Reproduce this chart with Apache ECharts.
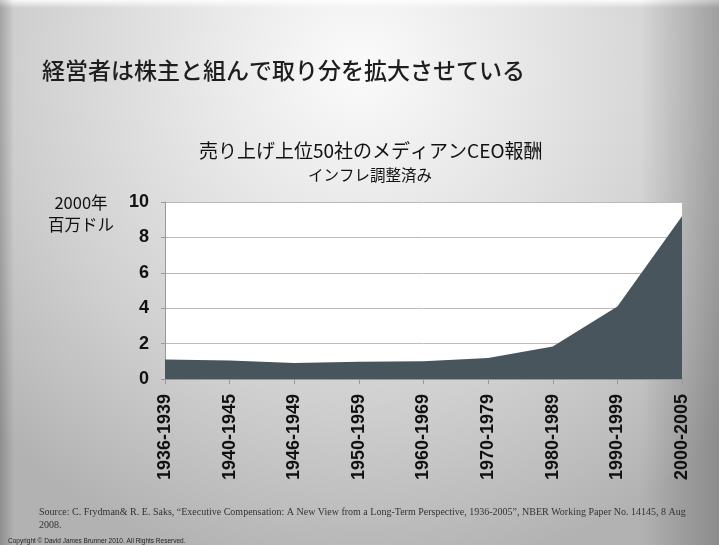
<!DOCTYPE html>
<html><head><meta charset="utf-8">
<script src="https://cdn.jsdelivr.net/npm/echarts@6/dist/echarts.min.js"></script>
<style>html,body{margin:0;padding:0;}#c{width:719px;height:545px;}</style>
</head><body><div id="c"></div>
<script>
const categories = ['1936-1939','1940-1945','1946-1949','1950-1959','1960-1969','1970-1979','1980-1989','1990-1999','2000-2005'];
const medianPay = [1.10, 1.04, 0.91, 0.97, 1.00, 1.19, 1.84, 4.09, 9.19];
const yTicks = [0, 2, 4, 6, 8, 10];

const chart = echarts.init(document.getElementById('c'), null, {renderer:'canvas'});
const jp = '"Noto Sans CJK JP", sans-serif';
chart.setOption({
  animation: false,
  backgroundColor: {type:'radial', x:0.5, y:0.12, r:0.95, colorStops:[
    {offset:0, color:'#fbfbfb'}, {offset:0.3, color:'#e8e8e8'}, {offset:0.65, color:'#d0d0d0'}, {offset:1, color:'#b2b2b2'}]},
  title: [
    {text:'経営者は株主と組んで取り分を拡大させている', left:37, top:54,
     textStyle:{fontFamily:jp, fontSize:23, fontWeight:500, color:'#1e1e1e'}},
    {text:'売り上げ上位50社のメディアンCEO報酬', left:194, top:136,
     textStyle:{fontFamily:jp, fontSize:19, fontWeight:'normal', color:'#111'}},
    {text:'インフレ調整済み', left:303, top:162,
     textStyle:{fontFamily:jp, fontSize:15.5, fontWeight:'normal', color:'#111'}}
  ],
  graphic: [
    {type:'rect', left:0, top:0, shape:{width:719, height:8}, style:{fill:{type:'linear',x:0,y:0,x2:0,y2:1,colorStops:[{offset:0,color:'rgba(255,255,255,0.9)'},{offset:1,color:'rgba(255,255,255,0)'}]}}, silent:true, z:-1},
    {type:'rect', left:640, top:0, shape:{width:79, height:545}, style:{fill:{type:'linear',x:0,y:0,x2:1,y2:0,colorStops:[{offset:0,color:'rgba(0,0,0,0)'},{offset:1,color:'rgba(0,0,0,0.22)'}]}}, silent:true, z:-1},
    {type:'rect', left:0, top:0, shape:{width:14, height:545}, style:{fill:{type:'linear',x:0,y:0,x2:1,y2:0,colorStops:[{offset:0,color:'rgba(0,0,0,0.2)'},{offset:1,color:'rgba(0,0,0,0)'}]}}, silent:true, z:-1},
    {type:'text', x:81, y:192, style:{text:'2000年\n百万ドル', textAlign:'center', font:'16.5px "Noto Sans CJK JP", sans-serif', fill:'#111', lineHeight:22}},
    {type:'text', left:39, top:506, style:{text:'Source: C. Frydman& R. E. Saks, “Executive Compensation: A New View from a Long-Term Perspective, 1936-2005”, NBER Working Paper No. 14145, 8 Aug\n2008.',
      font:'10px "Liberation Serif", serif', fill:'#333', lineHeight:13}},
    {type:'text', left:8, top:538, style:{text:'Copyright © David James Brunner 2010. All Rights Reserved.', font:'6.5px "Liberation Sans", sans-serif', fill:'#222'}}
  ],
  grid: {left:165, right:37, top:202, bottom:166, show:true, backgroundColor:'#ffffff', borderWidth:0},
  xAxis: {type:'category', data:categories, boundaryGap:false,
    axisLine:{lineStyle:{color:'#999'}}, axisTick:{show:true, length:5, lineStyle:{color:'#999'}},
    axisLabel:{rotate:90, fontFamily:'"Liberation Sans", Arial, sans-serif', fontWeight:'bold', fontSize:18, color:'#111', margin:15}},
  yAxis: {type:'value', min:0, max:10, interval:2,
    axisLine:{show:true, lineStyle:{color:'#999'}}, axisTick:{show:true, length:4, lineStyle:{color:'#999'}},
    splitLine:{lineStyle:{color:'#c2b8b6', width:1}},
    axisLabel:{fontFamily:'"Liberation Sans", Arial, sans-serif', fontWeight:'bold', fontSize:18, color:'#111', margin:16,
      formatter: v => yTicks.includes(v) ? String(v) : ''}},
  series: [{type:'line', data:medianPay, symbol:'none', lineStyle:{width:0},
    areaStyle:{color:'#48555d', opacity:1}}]
});
</script></body></html>
